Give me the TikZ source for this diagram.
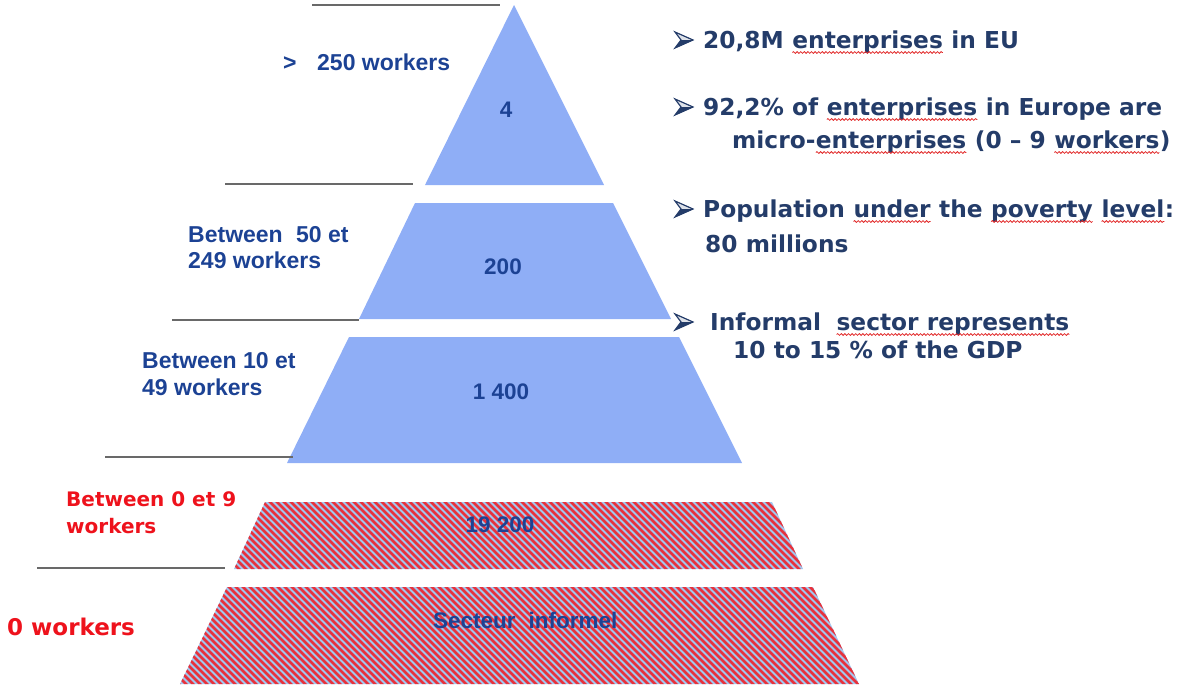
\documentclass[tikz,border=0pt]{standalone}
\usepackage{fontspec}
\setmainfont{Liberation Sans}
\newfontfamily\tah{DejaVu Sans}
\usetikzlibrary{decorations.pathmorphing}
\definecolor{pyr}{RGB}{143,174,246}
\definecolor{numblue}{RGB}{28,66,148}
\definecolor{navy}{RGB}{36,60,105}
\definecolor{lred}{RGB}{238,18,28}
\definecolor{hred}{RGB}{232,50,60}
\definecolor{hblue}{RGB}{160,200,240}
\definecolor{lgray}{RGB}{105,105,105}
\definecolor{spellred}{RGB}{225,40,40}
\newcommand\spell[1]{\tikz[baseline=(w.base), x=1pt, y=1pt]{\node[inner sep=0pt, outer sep=0pt] (w) {#1}; \draw[spellred, line width=0.8pt, decorate, decoration={snake, amplitude=0.9pt, segment length=3.6pt}] ([yshift=-4.5pt]w.base west) -- ([yshift=-4.5pt]w.base east);}}
\tikzset{
  tier/.style={fill=pyr, draw=none},
  hatchline/.style={draw=hred, line width=2.5pt},
  rule/.style={draw=lgray, line width=2pt},
  ll/.style={inner sep=0pt, anchor=base west, text=numblue, font=\bfseries\fontsize{23}{26}\selectfont},
  num/.style={inner sep=0pt, anchor=base, text=numblue, font=\bfseries\fontsize{22.5}{26}\selectfont},
  rl/.style={inner sep=0pt, anchor=base west, text=lred, font=\tah\bfseries\fontsize{20}{24}\selectfont},
  rt/.style={inner sep=0pt, anchor=base west, text=navy, font=\tah\bfseries\fontsize{23.3}{28}\selectfont},
  bullet/.pic={
    \fill[navy!15] (0,-8) -- (18,0) -- (6,0) -- cycle;
    \fill[navy] (0,8) -- (18,0) -- (6,0) -- cycle;
    \draw[navy, line width=1.2pt, line join=miter] (0,-8) -- (18,0) -- (0,8) -- (6,0) -- cycle;
  },
}
\begin{document}
\begin{tikzpicture}[x=1pt,y=-1pt]
\useasboundingbox (0,0) rectangle (1182,688);
% solid tiers
\path[tier] (514,5) -- (604,185) -- (425,185) -- cycle;
\path[tier] (415,203) -- (613,203) -- (671,319) -- (359,319) -- cycle;
\path[tier] (349,337) -- (679,337) -- (742,463) -- (287,463) -- cycle;
% hatched tiers
\begin{scope}
\clip (265,502) -- (772,502) -- (803,569) -- (234,569) -- cycle;
\fill[hblue] (150,480) rectangle (900,600);
\foreach \x in {-60,-53,...,880} \draw[hatchline] (\x,480) -- ++(230,230);
\end{scope}
\begin{scope}
\clip (227,587) -- (813,587) -- (859,684) -- (180,684) -- cycle;
\fill[hblue] (150,580) rectangle (900,690);
\foreach \x in {-60,-53,...,880} \draw[hatchline] (\x,480) -- ++(230,230);
\end{scope}
% rules
\draw[rule] (312,5) -- (500,5);
\draw[rule] (225,184) -- (413,184);
\draw[rule] (172,320) -- (359,320);
\draw[rule] (105,457) -- (293,457);
\draw[rule] (37,568) -- (225,568);
% numbers
\node[num] (n1) at (506,117) {4};
\node[num] (n2) at (503,274) {200};
\node[num] (n3) at (501,399) {1 400};
\node[num] (n4) at (500,532) {19 200};
\node[num, anchor=base west] (n5) at (433,628) {Secteur\hspace{0.3em} informel};
% left labels
\node[ll] (g1) at (283,70) {>};
\node[ll] (g1b) at (317,70) {250 workers};
\node[ll] (g2) at (188,242) {Between\hspace{0.3em} 50 et};
\node[ll] (g2b) at (188,268) {249 workers};
\node[ll] (g3) at (142,368) {Between 10 et};
\node[ll] (g3b) at (142,395) {49 workers};
\node[rl] (r1) at (66,506) {Between 0 et 9};
\node[rl] (r1b) at (66,533) {workers};
\node[rl, font=\tah\bfseries\fontsize{23}{26}\selectfont] (r2) at (7,635) {0 workers};
% right text
\pic (a1) at (675,40) {bullet};
\node[rt] (t1) at (703,48) {20,8M \spell{enterprises} in EU};
\pic (a2) at (675,107) {bullet};
\node[rt] (t2) at (703,115) {92,2\% of \spell{enterprises} in Europe are};
\node[rt] (t3) at (732,148) {micro-\spell{enterprises} (0 – 9 \spell{workers})};
\pic (a3) at (675,209) {bullet};
\node[rt] (t4) at (703,217) {Population \spell{under} the \spell{poverty} \spell{level}:};
\node[rt] (t5) at (705,252) {80 millions};
\pic (a4) at (675,322) {bullet};
\node[rt] (t6) at (710,330) {Informal\hspace{0.3em} \spell{sector represents}};
\node[rt] (t7) at (733,358) {10 to 15 \% of the GDP};
\end{tikzpicture}
\end{document}
